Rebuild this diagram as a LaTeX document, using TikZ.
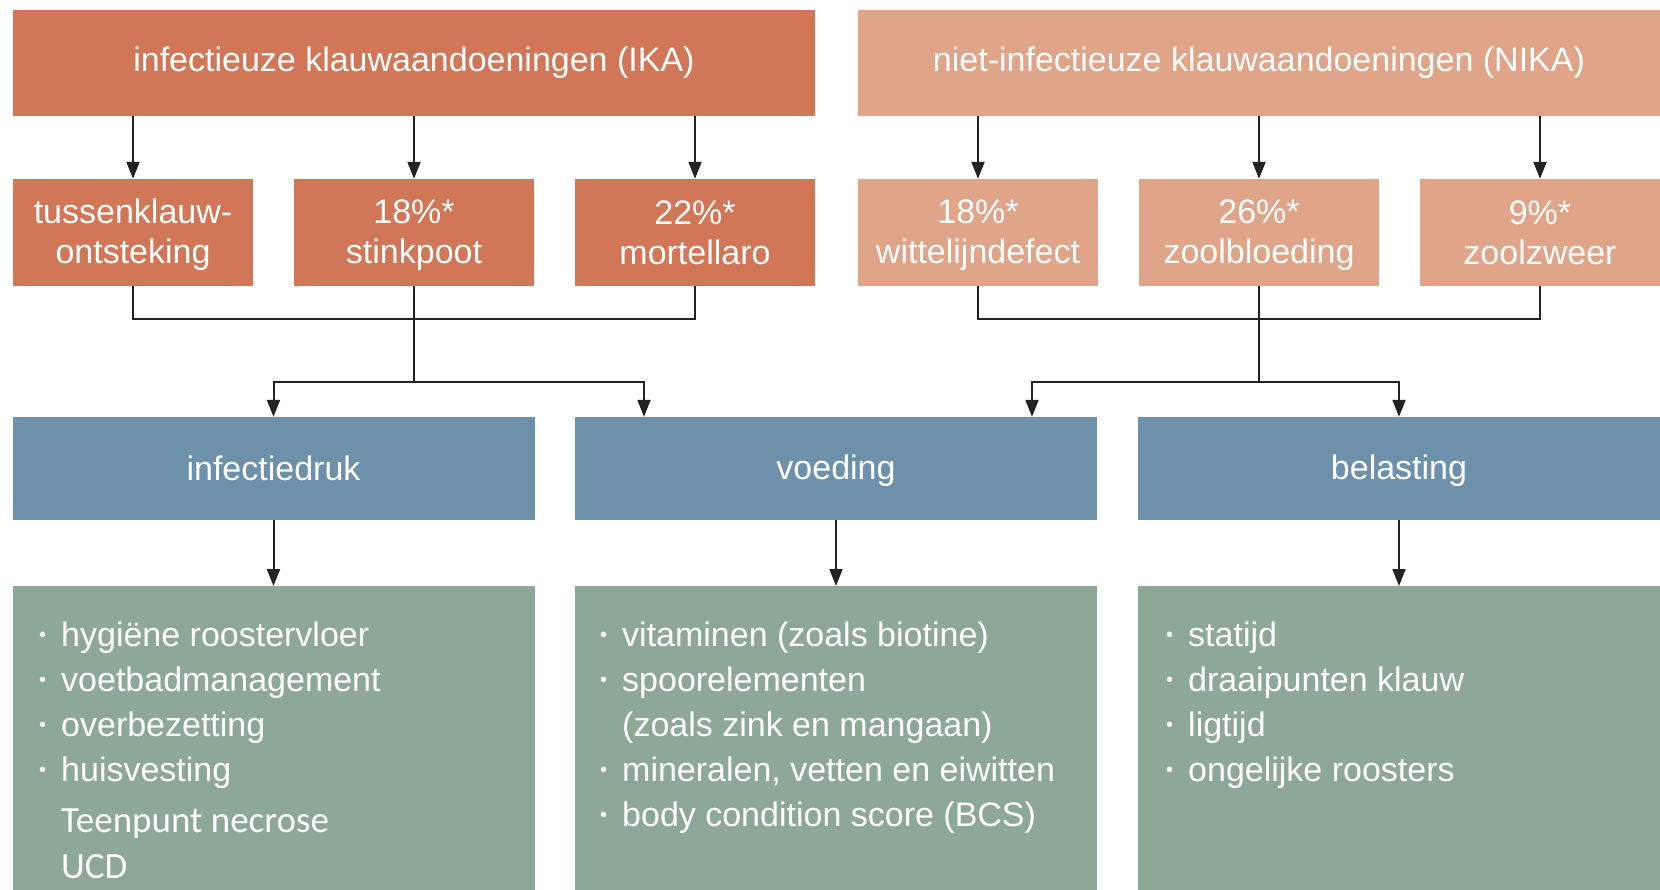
\documentclass[tikz,border=0pt]{standalone}
\usepackage{fontspec}
\setmainfont{Liberation Sans}
\newfontfamily\carlito{Carlito}
\usetikzlibrary{arrows.meta}

\definecolor{ikaRood}{RGB}{209,118,87}
\definecolor{nikaZalm}{RGB}{224,164,137}
\definecolor{oorzaakBlauw}{RGB}{110,145,171}
\definecolor{maatregelGroen}{RGB}{141,168,151}
\definecolor{lijnGrijs}{RGB}{34,34,34}

\newcommand{\punt}{\makebox[22pt][l]{\raisebox{5pt}{\fontsize{20}{20}\selectfont\textbullet}}}
\newcommand{\regel}{\rule[-6pt]{0pt}{36pt}}
\newcommand{\kopregel}{\rule[-10pt]{0pt}{38pt}}

\begin{document}
\begin{tikzpicture}[x=1pt, y=-1pt,
    box/.style={fill=#1, text=white, inner sep=0pt, align=center,
        font=\fontsize{34}{40}\selectfont},
    kop/.style={box=#1, minimum width=802pt, minimum height=106pt},
    ziekte/.style={box=#1, minimum width=240pt, minimum height=107pt},
    oorzaak/.style={box=oorzaakBlauw, minimum width=522pt, minimum height=103pt},
    maatregel/.style={fill=maatregelGroen, minimum width=522pt, minimum height=330pt,
        inner sep=0pt, anchor=north},
    lijst/.style={text=white, anchor=base west, align=left, inner sep=0pt,
        font=\fontsize{34}{45}\selectfont},
    verbind/.style={draw=lijnGrijs, line width=2pt},
    pijl/.style={verbind, -{Triangle[length=17pt, width=13pt]}}]

    \pgfmathsetmacro{\rijKop}{63}
    \pgfmathsetmacro{\rijZiekte}{232.5}
    \pgfmathsetmacro{\rijOorzaak}{468.5}

    \useasboundingbox (0,0) rectangle (1660,890);
    \fill[white] (0,0) rectangle (1660,890);

    % koppen
    \node[kop=ikaRood] (ika) at (414,\rijKop) {\kopregel infectieuze klauwaandoeningen (IKA)};
    \node[kop=nikaZalm] (nika) at (1259,\rijKop) {\kopregel niet-infectieuze klauwaandoeningen (NIKA)};

    % aandoeningen
    \node[ziekte=ikaRood] (tk) at (133,\rijZiekte) {\regel tussenklauw-\\\regel ontsteking};
    \node[ziekte=ikaRood] (sp) at (414,\rijZiekte) {\regel 18\%*\\\regel stinkpoot};
    \node[ziekte=ikaRood] (mo) at (695,\rijZiekte) {\regel 22\%*\\\regel mortellaro};
    \node[ziekte=nikaZalm] (wl) at (978,\rijZiekte) {\regel 18\%*\\\regel wittelijndefect};
    \node[ziekte=nikaZalm] (zb) at (1259,\rijZiekte) {\regel 26\%*\\\regel zoolbloeding};
    \node[ziekte=nikaZalm] (zz) at (1540,\rijZiekte) {\regel 9\%*\\\regel zoolzweer};

    % oorzaken
    \node[oorzaak] (infd) at (273.5,\rijOorzaak) {\regel infectiedruk};
    \node[oorzaak] (voed) at (836,\rijOorzaak) {\regel voeding};
    \node[oorzaak] (bel) at (1399,\rijOorzaak) {\regel belasting};

    % maatregelen (ankerpunt = basislijn van de laatste regel)
    \node[maatregel] (linfd) at (273.5,586) {};
    \node[maatregel] (lvoed) at (836,586) {};
    \node[maatregel] (lbel) at (1399,586) {};

    \node[lijst] (tinfd) at (39,781) {\punt hygiëne roostervloer\\
        \punt voetbadmanagement\\ \punt overbezetting\\ \punt huisvesting};
    \node[lijst, font=\carlito\fontsize{37}{46}\selectfont] (tteen) at (61,878)
        {Teenpunt necrose\\UCD};
    \node[lijst] (tvoed) at (600,826) {\punt vitaminen (zoals biotine)\\
        \punt spoorelementen\\ \hspace*{22pt}(zoals zink en mangaan)\\
        \punt mineralen, vetten en eiwitten\\ \punt body condition score (BCS)};
    \node[lijst] (tbel) at (1166,781) {\punt statijd\\ \punt draaipunten klauw\\
        \punt ligtijd\\ \punt ongelijke roosters};

    % pijlen van kop naar aandoening
    \foreach \z in {tk, sp, mo} {
        \draw[pijl] (ika.south -| \z.north) -- (\z.north);
    }
    \foreach \z in {wl, zb, zz} {
        \draw[pijl] (nika.south -| \z.north) -- (\z.north);
    }

    % verzamellijnen
    \coordinate (busIKA) at (414,319);
    \coordinate (splitsIKA) at (414,382);
    \coordinate (busNIKA) at (1259,319);
    \coordinate (splitsNIKA) at (1259,382);

    \draw[verbind] (tk.south) |- (busIKA) -| (mo.south);
    \draw[verbind] (sp.south) -- (splitsIKA);
    \draw[pijl] (splitsIKA) -| (infd.north);
    \draw[pijl] (splitsIKA) -| ([xshift=-192pt]voed.north);

    \draw[verbind] (wl.south) |- (busNIKA) -| (zz.south);
    \draw[verbind] (zb.south) -- (splitsNIKA);
    \draw[pijl] (splitsNIKA) -| ([xshift=196pt]voed.north);
    \draw[pijl] (splitsNIKA) -| (bel.north);

    % naar maatregelen
    \draw[pijl] (infd.south) -- (linfd.north);
    \draw[pijl] (voed.south) -- (lvoed.north);
    \draw[pijl] (bel.south) -- (lbel.north);
\end{tikzpicture}
\end{document}
